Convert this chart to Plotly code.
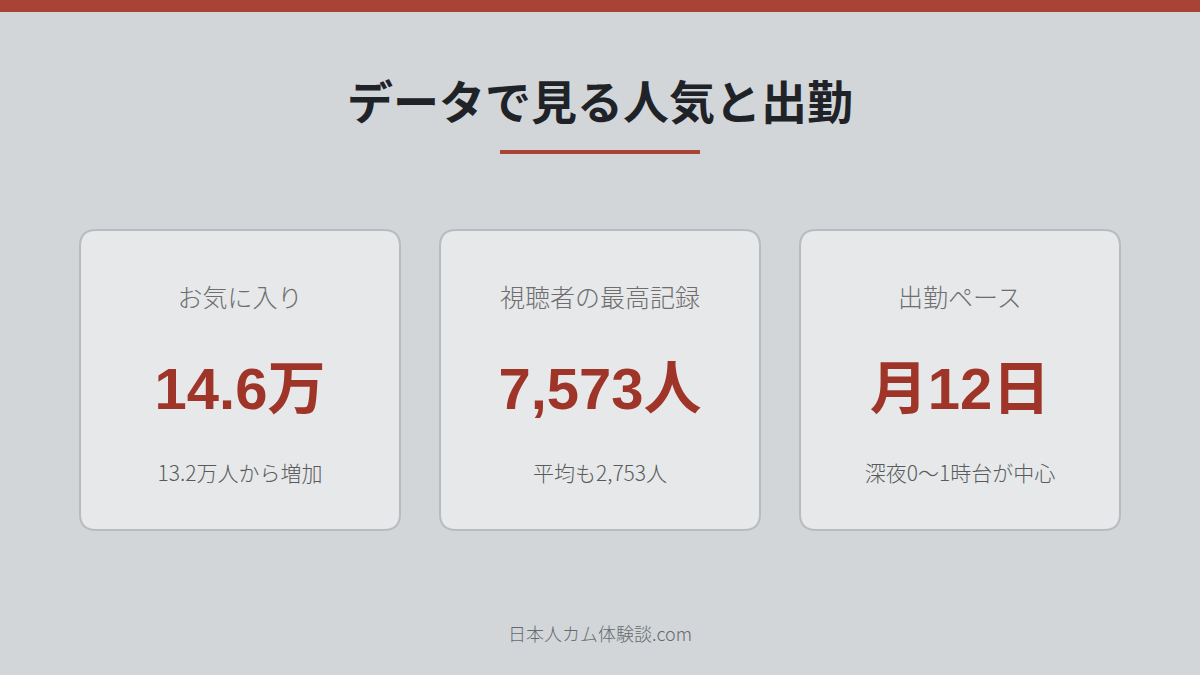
import plotly.graph_objects as go

# card contents
card_labels = ['お気に入り', '視聴者の最高記録', '出勤ペース']
card_values = ['14.6万', '7,573人', '月12日']
card_notes = ['13.2万人から増加', '平均も2,753人', '深夜0〜1時台が中心']

title = 'データで見る人気と出勤'
footer = '日本人カム体験談.com'

W, H = 1200, 675
BG = '#D2D6D9'
RED = '#A84335'
VAL_RED = '#9F3529'
CARD_BG = '#E6E8EA'
CARD_LINE = '#B8BBBF'


def round_rect(x0, y0, x1, y1, r):
    return (f'M{x0+r},{y0} L{x1-r},{y0} Q{x1},{y0} {x1},{y0+r} '
            f'L{x1},{y1-r} Q{x1},{y1} {x1-r},{y1} '
            f'L{x0+r},{y1} Q{x0},{y1} {x0},{y1-r} '
            f'L{x0},{y0+r} Q{x0},{y0} {x0+r},{y0} Z')


fig = go.Figure()

shapes = [
    # top bar
    dict(type='rect', x0=0, x1=W, y0=0, y1=12, fillcolor=RED,
         line=dict(width=0), layer='below'),
    # title underline
    dict(type='rect', x0=500, x1=700, y0=150, y1=154, fillcolor=RED,
         line=dict(width=0), layer='below'),
]

card_w, gap, left = 320, 40, 80
top, bottom = 230, 530
centers = []
for i in range(len(card_labels)):
    x0 = left + i * (card_w + gap)
    x1 = x0 + card_w
    centers.append((x0 + x1) / 2)
    shapes.append(dict(type='path', path=round_rect(x0, top, x1, bottom, 16),
                       fillcolor=CARD_BG, line=dict(color=CARD_LINE, width=2),
                       layer='below'))

cjk = 'Noto Sans CJK JP'

fig.add_trace(go.Scatter(
    x=centers, y=[301] * 3, mode='text', text=card_labels,
    textfont=dict(family=cjk, size=25, color='#6E6E6E', weight=300),
    hoverinfo='skip', showlegend=False))

fig.add_trace(go.Scatter(
    x=centers, y=[394] * 3, mode='text', text=card_values,
    textfont=dict(family='Liberation Sans, ' + cjk, size=58, color=VAL_RED,
                  weight='bold'),
    hoverinfo='skip', showlegend=False))

fig.add_trace(go.Scatter(
    x=centers, y=[476] * 3, mode='text', text=card_notes,
    textfont=dict(family=cjk, size=21, color='#5A5A5A', weight=300),
    hoverinfo='skip', showlegend=False))

annotations = [
    dict(x=W / 2, y=99, text=f'<b>{title}</b>', showarrow=False,
         font=dict(family=cjk, size=46, color='#1F2328'),
         xanchor='center', yanchor='middle'),
    dict(x=W / 2, y=633, text=footer, showarrow=False,
         font=dict(family=cjk, size=18, color='#666A70', weight=300),
         xanchor='center', yanchor='middle'),
]

fig.update_layout(
    width=W, height=H,
    margin=dict(l=0, r=0, t=0, b=0),
    paper_bgcolor=BG, plot_bgcolor=BG,
    xaxis=dict(range=[0, W], visible=False, fixedrange=True),
    yaxis=dict(range=[H, 0], visible=False, fixedrange=True),
    shapes=shapes,
    annotations=annotations,
)

fig.write_html('out.html', config=dict(displayModeBar=False),
               post_script="document.body.style.margin='0';")
